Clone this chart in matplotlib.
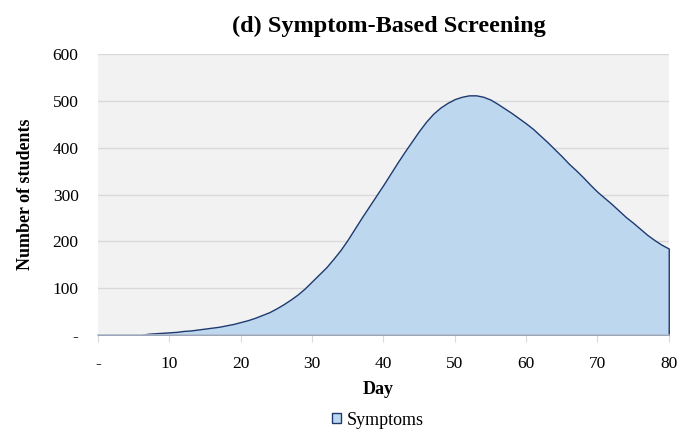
import numpy as np
import matplotlib.pyplot as plt

plt.rcParams['font.family'] = ['Liberation Serif', 'DejaVu Serif']

days = np.arange(0, 81)
symptoms = [0, 0, 0, 0, 0, 0, 0, 3, 4, 5,
            6, 7, 9, 10, 12, 14, 16, 18, 21, 24,
            28, 32, 37, 43, 49, 57, 66, 76, 87, 100,
            115, 130, 145, 163, 182, 204, 228, 252, 275, 298,
            321, 345, 369, 392, 414, 436, 456, 473, 486, 496,
            504, 509, 512, 512, 509, 503, 494, 484, 474, 463,
            452, 440, 426, 412, 397, 382, 366, 352, 337, 321,
            306, 293, 280, 266, 252, 240, 227, 214, 203, 193,
            185]

xticks = [0, 10, 20, 30, 40, 50, 60, 70, 80]
xlabels = ['-', '10', '20', '30', '40', '50', '60', '70', '80']
yticks = [0, 100, 200, 300, 400, 500, 600]
ylabels = ['-', '100', '200', '300', '400', '500', '600']

fig = plt.figure(figsize=(6.81, 4.33), dpi=100)
ax = fig.add_axes([0.144, 0.226, 0.838, 0.649])
ax.set_facecolor('#F2F2F2')

ax.fill_between(days, symptoms, 0, facecolor='#BDD7EE', edgecolor='#1F3A70',
                linewidth=1.0, label='Symptoms', zorder=3)

ax.set_xlim(0, 80)
ax.set_ylim(0, 600)
ax.set_xticks(xticks)
ax.set_xticklabels(xlabels, fontsize=12.5)
ax.set_yticks(yticks)
ax.set_yticklabels(ylabels, fontsize=12.5)
ax.grid(axis='y', color='#D9D9D9', linewidth=1)
ax.set_axisbelow(True)

for s in ['top', 'right', 'left']:
    ax.spines[s].set_visible(False)
ax.spines['bottom'].set_color('#B4BCCB')
ax.spines['bottom'].set_linewidth(1.2)
ax.spines['bottom'].set_zorder(4)
ax.tick_params(axis='y', length=0, pad=14)
ax.tick_params(axis='x', length=5, color='#D9D9D9', pad=10)

ax.set_title('(d) Symptom-Based Screening', fontsize=17.5, fontweight='bold',
             pad=16, x=0.51)
ax.set_xlabel('Day', fontsize=13, fontweight='bold')
ax.xaxis.set_label_coords(0.49, -0.192)
ax.xaxis.label.set_va('center')
ax.set_ylabel('Number of students', fontsize=13, fontweight='bold')
ax.yaxis.set_label_coords(-0.128, 0.5)
ax.yaxis.label.set_va('center')

ax.legend(loc='center', bbox_to_anchor=(0.49, -0.302), frameon=False,
          fontsize=13, handlelength=0.5, handleheight=0.5, handletextpad=0.3)

fig.savefig('out.png', dpi=100)
